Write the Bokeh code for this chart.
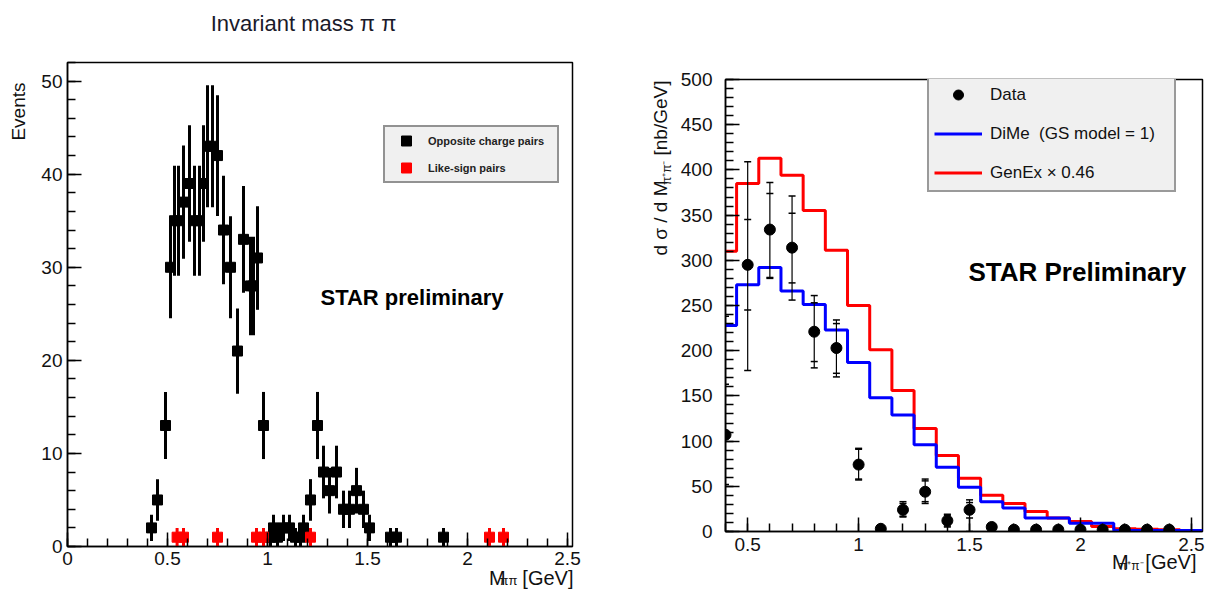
import numpy as np
from bokeh.plotting import figure
from bokeh.layouts import row, column
from bokeh.models import Range1d, FixedTicker, Label, Legend, LegendItem, Spacer
from bokeh.embed import file_html
from bokeh.resources import INLINE

FONT = "Liberation Sans"
NB = "\u00a0"  # non-collapsing space

# ---------------- left panel data ----------------
opp_mass = [0.42, 0.45, 0.49, 0.515, 0.535, 0.555, 0.58, 0.61, 0.635, 0.66, 0.68, 0.70, 0.725,
            0.75, 0.78, 0.815, 0.85, 0.88, 0.915, 0.93, 0.95, 0.98, 1.015, 1.03, 1.05, 1.08,
            1.11, 1.14, 1.165, 1.18, 1.215, 1.25, 1.28, 1.31, 1.345, 1.38, 1.41, 1.445, 1.48,
            1.51, 1.615, 1.645, 1.88]
opp_counts = [2, 5, 13, 30, 35, 35, 37, 39, 35, 35, 39, 43, 43,
              42, 34, 30, 21, 33, 28, 28, 31, 13, 1, 2, 1, 2,
              2, 1, 1, 2, 5, 13, 8, 6, 8, 4, 4, 6, 4,
              2, 1, 1, 1]
like_mass = [0.548, 0.58, 0.75, 0.945, 0.98, 1.215, 2.11, 2.18]
like_counts = [1, 1, 1, 1, 1, 1, 1, 1]

left_xticks = [0, 0.5, 1, 1.5, 2, 2.5]
left_xtick_labels = ["0", "0.5", "1", "1.5", "2", "2.5"]
left_yticks = [0, 10, 20, 30, 40, 50]
left_ytick_labels = ["0", "10", "20", "30", "40", "50"]

# ---------------- right panel data ----------------
data_mass = [0.4, 0.5, 0.6, 0.7, 0.8, 0.9, 1.0, 1.1, 1.2, 1.3, 1.4, 1.5, 1.6, 1.7,
             1.8, 1.9, 2.0, 2.1, 2.2, 2.3, 2.4]
data_xsec = [107, 295, 334, 314, 221, 203, 74, 3, 24, 44, 12, 24, 5, 2,
             2, 2, 2, 2, 2, 2, 2]
err_mass = [0.4, 0.5, 0.6, 0.7, 0.8, 0.9, 1.0, 1.1, 1.2, 1.3, 1.4, 1.5]
tot_lo = [0, 178, 280, 256, 181, 171, 57, 1, 16, 31, 5, 0]
tot_hi = [238, 409, 386, 371, 261, 234, 92, 5, 33, 58, 19, 35]
stat_lo = [52, 245, 281, 275, 188, 175, 58, 2, 17, 33, 6, 15]
stat_hi = [163, 345, 374, 352, 253, 230, 91, 4, 31, 56, 18, 32]

dime_edges = [0.35, 0.45, 0.55, 0.65, 0.75, 0.85, 0.95, 1.05, 1.15, 1.25, 1.35, 1.45,
              1.55, 1.65, 1.75, 1.85, 1.95, 2.05, 2.15, 2.25, 2.35, 2.45, 2.55]
dime_vals = [228, 273, 292, 266, 251, 223, 187, 148, 129, 96, 71, 49,
             33, 26, 15, 15, 9, 9, 1, 1, 1, 1]
genex_edges = [0.35, 0.45, 0.55, 0.65, 0.75, 0.85, 0.95, 1.05, 1.15, 1.25, 1.35, 1.45,
               1.55, 1.65, 1.75, 1.85, 1.95, 2.05, 2.15, 2.25, 2.35, 2.45]
genex_vals = [310, 385, 413, 394, 355, 311, 250, 201, 156, 114, 84, 59,
              40, 31, 22, 15, 11, 5.5, 3, 2.5, 2]

right_xticks = [0.5, 1, 1.5, 2, 2.5]
right_xtick_labels = ["0.5", "1", "1.5", "2", "2.5"]
right_yticks = [0, 50, 100, 150, 200, 250, 300, 350, 400, 450, 500]
right_ytick_labels = [str(v) for v in right_yticks]


def style_axis(ax, ticks, labels, minor, std=5):
    ax.ticker = FixedTicker(ticks=ticks, minor_ticks=minor)
    ax.major_label_overrides = dict(zip(ticks, labels))
    ax.major_tick_in = 14
    ax.major_tick_out = 0
    ax.minor_tick_in = 8
    ax.minor_tick_out = 0
    ax.axis_line_width = 1.5
    ax.axis_line_color = "black"
    ax.major_tick_line_width = 1.5
    ax.minor_tick_line_width = 1.5
    ax.major_tick_line_color = "black"
    ax.minor_tick_line_color = "black"
    ax.major_label_text_font = FONT
    ax.major_label_text_font_size = "19px"
    ax.major_label_text_color = "#111111"
    ax.major_label_standoff = std


def lab(text, x, y, dx=0, dy=0, size="20px", align="left", base="alphabetic", angle=0,
        style="normal", color="#111111"):
    return Label(x=x, y=y, x_offset=dx, y_offset=dy, text=text, text_align=align,
                 text_baseline=base, angle=angle, angle_units="deg", text_font=FONT,
                 text_font_size=size, text_font_style=style, text_color=color)


# ================= LEFT =================
lx0, lx1, ly0, ly1 = 0, 2.525, 0, 52
lp = figure(width=600, height=590, x_range=Range1d(lx0, lx1), y_range=Range1d(ly0, ly1),
            output_backend="svg", toolbar_location=None,
            min_border_left=67, min_border_right=28, min_border_top=62, min_border_bottom=44)
lp.xgrid.visible = False
lp.ygrid.visible = False
lp.outline_line_color = "black"
lp.outline_line_width = 1.5
style_axis(lp.xaxis[0], left_xticks, left_xtick_labels,
           [round(v, 2) for v in np.arange(0, 2.55, 0.1)], std=5)
style_axis(lp.yaxis[0], left_yticks, left_ytick_labels, list(range(0, 53, 2)), std=5)

opp_err = np.sqrt(np.array(opp_counts, dtype=float))
like_err = np.sqrt(np.array(like_counts, dtype=float))
lp.segment(x0=opp_mass, y0=list(np.array(opp_counts) - opp_err), x1=opp_mass,
           y1=list(np.array(opp_counts) + opp_err), line_width=3, line_color="black")
r_opp = lp.scatter(x=opp_mass, y=opp_counts, marker="square", size=10,
                   fill_color="black", line_color="black")
lp.segment(x0=like_mass, y0=list(np.array(like_counts) - like_err), x1=like_mass,
           y1=list(np.array(like_counts) + like_err), line_width=3, line_color="red")
r_like = lp.scatter(x=like_mass, y=like_counts, marker="square", size=10,
                    fill_color="red", line_color="red")

leg_l = Legend(items=[LegendItem(label="Opposite charge pairs", renderers=[r_opp]),
                      LegendItem(label="Like-sign pairs", renderers=[r_like])],
               location=(316, 363))
leg_l.padding = 1
leg_l.spacing = 2
leg_l.glyph_height = 25
leg_l.glyph_width = 40
leg_l.label_height = 25
leg_l.label_width = 128
leg_l.label_standoff = 2
leg_l.label_text_font = FONT
leg_l.label_text_font_size = "11px"
leg_l.label_text_font_style = "bold"
leg_l.label_text_color = "#222222"
leg_l.background_fill_color = "#f0f0f0"
leg_l.background_fill_alpha = 1
leg_l.border_line_color = "#333333"
leg_l.border_line_width = 2
leg_l.margin = 0
lp.add_layout(leg_l)

lp.add_layout(lab("STAR preliminary", 1.265, 26.7, size="22px", base="middle", style="bold",
                  color="black"))
# texts outside the frame go to side panels (not clipped)
lp.add_layout(lab("Invariant mass π π", 1.18, ly1, dy=39, size="22px", align="center",
                  color="#1a1a2a"), "above")
lp.add_layout(lab("M" + NB * 3 + "[GeV]", lx1, ly0, dx=1, dy=-31, align="right"), "above")
lp.add_layout(lab("ππ", lx1, ly0, dx=-55, dy=-34, size="13px", align="right"), "below")
lp.add_layout(lab("Events", lx0, ly1, dx=-49, dy=-20, size="19px", align="right",
                  base="middle", angle=90), "left")

# ================= RIGHT =================
rx0, rx1, ry0, ry1 = 0.4, 2.55, 0, 500
rp = figure(width=605, height=558, x_range=Range1d(rx0, rx1), y_range=Range1d(ry0, ry1),
            output_backend="svg", toolbar_location=None,
            min_border_left=125, min_border_right=3, min_border_top=62, min_border_bottom=44)
rp.xgrid.visible = False
rp.ygrid.visible = False
rp.outline_line_color = "black"
rp.outline_line_width = 1.5
style_axis(rp.xaxis[0], right_xticks, right_xtick_labels,
           [round(v, 2) for v in np.arange(0.4, 2.56, 0.1)], std=6)
style_axis(rp.yaxis[0], right_yticks, right_ytick_labels, list(range(0, 501, 10)), std=13)

r_gen = rp.step(x=genex_edges, y=genex_vals + [genex_vals[-1]], mode="after",
                line_width=3, line_color="red")
r_dime = rp.step(x=dime_edges, y=dime_vals + [dime_vals[-1]], mode="after",
                 line_width=3, line_color="blue")
rp.segment(x0=err_mass, y0=tot_lo, x1=err_mass, y1=tot_hi, line_width=1.2, line_color="black")
rp.scatter(x=err_mass + err_mass + err_mass + err_mass,
           y=tot_lo + tot_hi + stat_lo + stat_hi, marker="dash", size=7,
           line_width=1.5, line_color="black")
r_data = rp.scatter(x=data_mass, y=data_xsec, marker="circle", size=11,
                    fill_color="black", line_color="black")

leg_r = Legend(items=[LegendItem(label="Data", renderers=[r_data]),
                      LegendItem(label="DiMe  (GS model = 1)", renderers=[r_dime]),
                      LegendItem(label="GenEx × 0.46", renderers=[r_gen])],
               location=(202, 339))
leg_r.padding = 5
leg_r.spacing = 14
leg_r.glyph_height = 25
leg_r.glyph_width = 48
leg_r.label_height = 25
leg_r.label_width = 179
leg_r.label_standoff = 8
leg_r.label_text_font = FONT
leg_r.label_text_font_size = "17px"
leg_r.label_text_color = "#111111"
leg_r.background_fill_color = "#f0f0f0"
leg_r.background_fill_alpha = 1
leg_r.border_line_color = "#444444"
leg_r.border_line_width = 2
leg_r.margin = 0
rp.add_layout(leg_r)

rp.add_layout(lab("STAR Preliminary", 1.495, 287, size="26px", base="middle", style="bold",
                  color="black"))
# y-axis title pieces (rotated), left side panel
rp.add_layout(lab(NB + "[nb/GeV]", rx0, ry1, dx=-65, dy=-1, size="19px", align="right",
                  base="middle", angle=90), "left")
rp.add_layout(lab("π⁺π⁻", rx0, ry1, dx=-59, dy=-81, size="12px", align="right",
                  base="middle", angle=90), "left")
rp.add_layout(lab("d σ / d M", rx0, ry1, dx=-65, dy=-101, size="19px", align="right",
                  base="middle", angle=90), "left")
# x-axis title pieces
rp.add_layout(lab("M" + NB * 3 + "[GeV]", rx1, ry0, dx=-6, dy=-30, align="right"), "above")
rp.add_layout(lab("π⁺π⁻", rx1, ry0, dx=-59, dy=-34, size="12px", align="right"), "below")

layout = row(lp, column(Spacer(width=605, height=17), rp))
open("out.html", "w").write(file_html(layout, INLINE))
